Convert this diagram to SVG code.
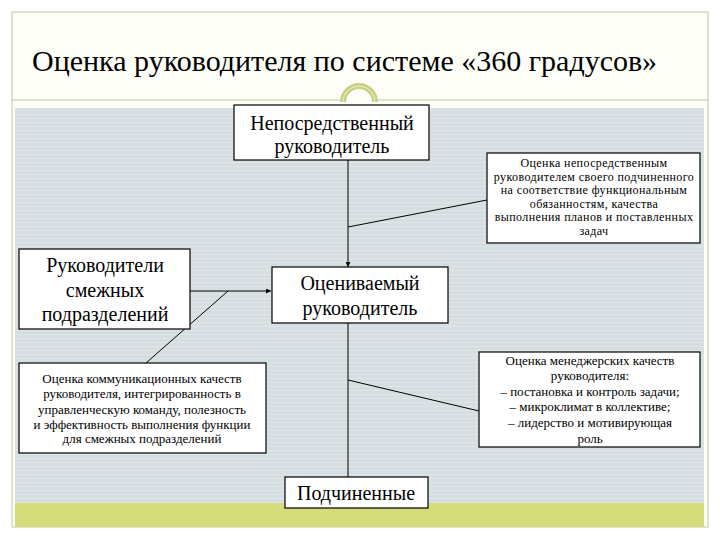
<svg xmlns="http://www.w3.org/2000/svg" width="720" height="540" viewBox="0 0 720 540">
<defs>
<pattern id="hatch" x="0" y="0" width="24" height="8" patternUnits="userSpaceOnUse">
<rect width="24" height="8" fill="#D5DFE2"/>
<rect x="0" y="2" width="24" height="1" fill="#DFE6E9"/>
<rect x="0" y="6" width="24" height="1" fill="#DFE6E9"/>
</pattern>
<marker id="arr" viewBox="0 0 6 6" refX="6" refY="3" markerWidth="5" markerHeight="5" orient="auto">
<path d="M0,0 L6,3 L0,6 z" fill="#000"/>
</marker>
<style>
.box{fill:#fff;stroke:#000;stroke-width:1.2}
.big{font-family:"Liberation Serif","DejaVu Serif",serif;font-size:20px;fill:#000;text-anchor:middle}
.sm{font-family:"Liberation Serif","DejaVu Serif",serif;font-size:13px;fill:#000;text-anchor:middle}
.xs{font-family:"Liberation Serif","DejaVu Serif",serif;font-size:12px;letter-spacing:0.4px;fill:#000;text-anchor:middle}
.ln{stroke:#000;stroke-width:1;fill:none}
</style>
</defs>
<rect x="0" y="0" width="720" height="540" fill="#fff"/>
<rect x="12" y="12" width="696" height="515" fill="#FEFEF9" stroke="#CFCFB4" stroke-width="1.2"/>
<rect x="15" y="108" width="689" height="395" fill="url(#hatch)"/>
<rect x="15" y="503" width="689" height="24" fill="#D4DC7C"/>
<line x1="12" y1="100" x2="340" y2="100" stroke="#C3C69A" stroke-width="1.2"/>
<line x1="378" y1="100" x2="708" y2="100" stroke="#C3C69A" stroke-width="1.2"/>
<path d="M343,102 A16,16 0 0 1 375,102" fill="none" stroke="#C9D082" stroke-width="6"/>
<path d="M343,102 A16,16 0 0 1 375,102" fill="none" stroke="#F0F2D8" stroke-width="1"/>
<text x="32" y="71" font-family="'Liberation Serif','DejaVu Serif',serif" font-size="30" fill="#000">Оценка руководителя по системе «360 градусов»</text>

<g id="connectors">
<line class="ln" x1="348" y1="160" x2="348" y2="267" marker-end="url(#arr)"/>
<line class="ln" x1="348" y1="227" x2="487" y2="200"/>
<line class="ln" x1="190" y1="291" x2="271" y2="291" marker-end="url(#arr)"/>
<line class="ln" x1="228" y1="291" x2="146" y2="363"/>
<line class="ln" x1="348" y1="323" x2="348" y2="477"/>
<line class="ln" x1="348" y1="380" x2="479" y2="411"/>
</g>

<g id="n-direct">
<rect class="box" x="234" y="105" width="195" height="55"/>
<text class="big" x="332" y="130">Непосредственный</text>
<text class="big" x="332" y="153">руководитель</text>
</g>

<g id="n-direct-note">
<rect class="box" x="487" y="153" width="213" height="90"/>
<text class="xs" x="594" y="167">Оценка непосредственным</text>
<text class="xs" x="594" y="180.5">руководителем своего подчиненного</text>
<text class="xs" x="594" y="194">на соответствие функциональным</text>
<text class="xs" x="594" y="207.5">обязанностям, качества</text>
<text class="xs" x="594" y="221">выполнения планов и поставленных</text>
<text class="xs" x="594" y="234.5">задач</text>
</g>

<g id="n-adjacent">
<rect class="box" x="19" y="249" width="171" height="80"/>
<text class="big" x="105" y="272">Руководители</text>
<text class="big" x="105" y="297">смежных</text>
<text class="big" x="105" y="321">подразделений</text>
</g>

<g id="n-evaluated">
<rect class="box" x="272" y="267" width="176" height="56"/>
<text class="big" x="360" y="290">Оцениваемый</text>
<text class="big" x="360" y="315">руководитель</text>
</g>

<g id="n-adjacent-note">
<rect class="box" x="19" y="363" width="247" height="90"/>
<text class="sm" x="142" y="383">Оценка коммуникационных качеств</text>
<text class="sm" x="142" y="398">руководителя, интегрированность в</text>
<text class="sm" x="142" y="414">управленческую команду, полезность</text>
<text class="sm" x="142" y="429">и эффективность выполнения функции</text>
<text class="sm" x="142" y="443">для смежных подразделений</text>
</g>

<g id="n-manager-note">
<rect class="box" x="479" y="352" width="221" height="95"/>
<text class="sm" x="590" y="365">Оценка менеджерских качеств</text>
<text class="sm" x="590" y="380">руководителя:</text>
<text class="sm" x="590" y="396">–  постановка и контроль задачи;</text>
<text class="sm" x="590" y="411">–  микроклимат в коллективе;</text>
<text class="sm" x="590" y="427">–  лидерство и мотивирующая</text>
<text class="sm" x="590" y="443">роль</text>
</g>

<g id="n-subordinates">
<rect class="box" x="285" y="477" width="143" height="31"/>
<text class="big" x="356" y="500">Подчиненные</text>
</g>
</svg>
